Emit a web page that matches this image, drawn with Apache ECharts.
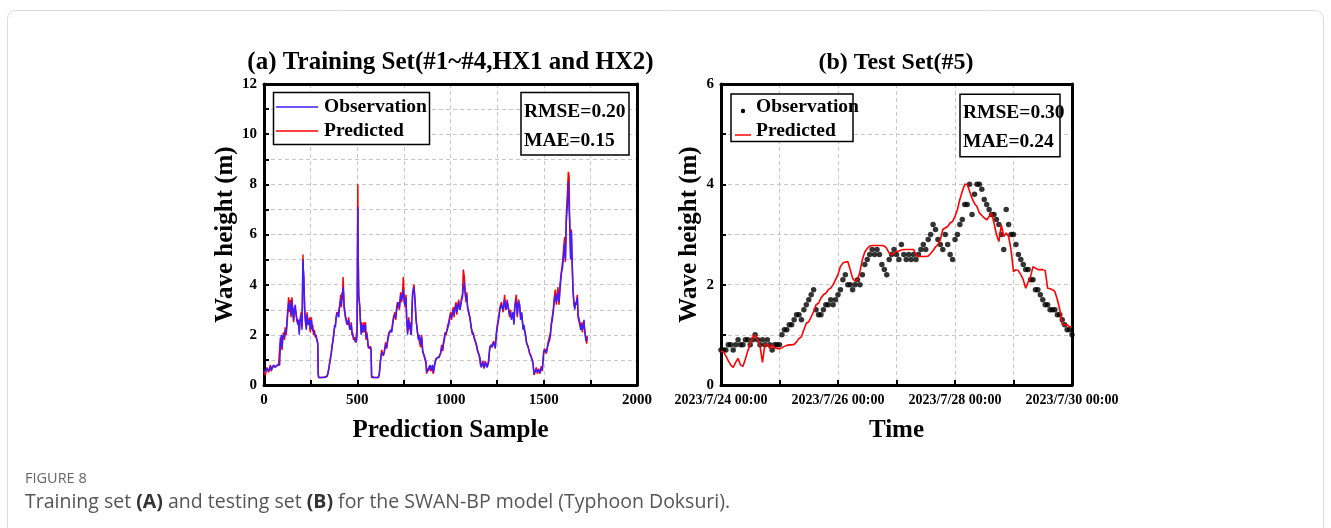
<!DOCTYPE html>
<html><head><meta charset="utf-8">
<script src="https://cdn.jsdelivr.net/npm/echarts@6/dist/echarts.min.js"></script>
<style>html,body{margin:0;padding:0;background:#fff;}#c{width:1331px;height:528px;}</style>
</head><body><div id="c"></div>
<script>
// ---------- DATA ----------
const trainObs = [[0,0.5],[7,0.45],[16,0.65],[25,0.55],[34,0.75],[39,0.6],[46,0.7],[52,0.8],[61,0.7],[70,0.8],[78,0.75],[84,0.8],[88,1.6],[93,2.0],[97,1.5],[100,1.8],[105,2.0],[110,1.9],[114,2.2],[119,2.1],[123,2.4],[126,2.7],[129,3.0],[132,3.3],[136,3.0],[141,3.2],[145,2.8],[150,3.4],[154,2.9],[159,2.6],[163,3.0],[168,3.2],[172,2.8],[177,2.6],[182,2.4],[186,2.6],[189,2.0],[192,2.5],[195,2.6],[200,2.8],[204,2.2],[207,3.8],[209,5.0],[211,4.6],[213,4.5],[218,3.0],[222,2.6],[227,2.2],[231,2.8],[235,2.5],[239,2.4],[244,2.6],[248,2.2],[254,2.6],[258,2.3],[261,2.3],[266,2.1],[270,2.1],[275,2.0],[280,1.9],[284,1.8],[288,1.7],[291,0.4],[293,0.3],[310,0.3],[325,0.3],[338,0.35],[343,0.45],[347,0.6],[352,0.9],[356,1.0],[361,1.3],[365,1.5],[370,1.8],[374,2.0],[379,2.4],[383,2.3],[386,2.6],[391,2.8],[397,2.9],[401,2.7],[404,3.0],[408,3.2],[411,3.4],[415,3.2],[418,3.6],[421,3.5],[424,3.9],[427,3.6],[429,3.2],[433,3.0],[436,2.8],[441,2.6],[445,2.5],[449,2.4],[454,2.6],[459,2.3],[463,2.2],[468,2.4],[472,2.1],[475,2.0],[480,1.9],[486,1.8],[490,1.75],[495,1.7],[499,2.0],[501,4.5],[503,7.1],[505,5.0],[508,3.5],[511,3.4],[514,3.0],[517,2.6],[521,2.0],[525,2.4],[528,2.2],[531,2.1],[536,2.4],[540,2.2],[544,2.4],[547,1.9],[552,2.0],[556,1.8],[559,1.5],[565,1.5],[570,1.5],[574,1.4],[577,0.3],[590,0.3],[600,0.3],[613,0.3],[618,0.4],[624,0.9],[631,1.3],[640,1.2],[645,1.3],[652,1.6],[658,1.5],[664,1.8],[670,2.0],[679,2.2],[685,2.1],[690,2.4],[694,2.6],[702,2.8],[707,2.7],[711,3.0],[716,3.1],[720,3.3],[726,3.1],[733,3.6],[738,3.4],[743,3.6],[747,3.8],[752,3.3],[756,3.2],[761,3.5],[765,2.7],[770,2.0],[773,2.5],[776,2.6],[780,2.3],[783,2.4],[787,2.1],[790,2.0],[794,3.0],[797,3.6],[804,3.9],[810,3.4],[815,2.6],[822,2.2],[828,1.8],[833,2.0],[837,1.8],[840,1.6],[845,1.9],[851,1.3],[858,1.2],[863,1.1],[869,0.9],[872,0.5],[877,0.6],[881,0.6],[886,0.7],[890,0.8],[895,0.6],[899,0.7],[904,0.8],[908,0.5],[913,0.7],[918,0.9],[922,1.0],[929,1.1],[935,1.05],[940,1.1],[947,1.3],[953,1.5],[958,1.4],[962,1.6],[967,1.8],[971,2.0],[977,2.1],[983,2.2],[990,2.4],[995,2.6],[1001,2.8],[1006,2.7],[1012,2.9],[1016,3.0],[1019,2.8],[1024,3.0],[1030,3.2],[1034,2.9],[1037,3.0],[1044,3.3],[1048,3.1],[1051,3.0],[1056,3.2],[1060,3.4],[1064,3.5],[1069,3.9],[1074,4.1],[1078,3.7],[1083,3.4],[1087,3.6],[1091,3.2],[1094,3.0],[1099,2.9],[1105,2.6],[1110,2.4],[1114,2.2],[1118,2.1],[1122,2.0],[1127,1.9],[1131,1.8],[1136,1.7],[1140,1.6],[1145,1.4],[1149,1.3],[1153,1.25],[1158,1.1],[1162,0.8],[1165,0.7],[1170,0.8],[1174,0.9],[1180,0.7],[1187,0.9],[1192,0.8],[1196,0.7],[1201,0.8],[1205,0.85],[1210,1.4],[1215,1.6],[1223,1.5],[1232,1.7],[1240,1.5],[1246,2.0],[1251,2.3],[1258,2.6],[1265,3.0],[1273,3.2],[1282,3.0],[1290,3.4],[1295,3.1],[1299,3.0],[1304,3.3],[1308,3.2],[1313,2.9],[1317,2.8],[1322,2.9],[1326,2.6],[1335,2.9],[1340,2.4],[1344,3.0],[1349,3.3],[1353,3.4],[1358,2.8],[1362,3.1],[1366,3.3],[1371,3.2],[1376,2.6],[1382,2.9],[1389,2.2],[1394,2.4],[1401,2.0],[1408,1.7],[1416,1.5],[1424,1.3],[1433,1.1],[1442,0.9],[1448,0.45],[1455,0.5],[1460,0.65],[1466,0.5],[1473,0.6],[1480,0.5],[1487,0.7],[1492,0.6],[1500,1.3],[1505,1.4],[1514,1.3],[1523,1.6],[1532,1.8],[1536,2.0],[1541,2.4],[1546,2.6],[1551,2.9],[1555,3.2],[1562,3.6],[1568,3.3],[1572,3.5],[1576,3.7],[1582,3.3],[1587,3.8],[1594,4.4],[1601,4.7],[1607,5.2],[1612,5.6],[1616,5.0],[1621,6.5],[1626,7.1],[1632,8.1],[1636,7.0],[1639,6.6],[1644,5.0],[1648,6.1],[1652,5.0],[1657,3.7],[1662,3.3],[1666,3.0],[1670,3.2],[1675,3.3],[1680,3.5],[1684,2.8],[1690,2.6],[1693,2.5],[1698,2.2],[1702,2.4],[1707,2.2],[1712,2.4],[1716,2.6],[1720,2.1],[1723,2.1],[1727,1.75],[1730,1.7],[1734,1.9]];

const trainPred = [[0,0.55],[7,0.4],[16,0.7],[25,0.5],[34,0.8],[39,0.55],[46,0.75],[52,0.75],[61,0.72],[70,0.75],[78,0.8],[84,0.75],[88,1.9],[93,1.7],[97,1.4],[100,1.9],[105,2.1],[110,1.8],[114,2.3],[119,2.0],[123,2.5],[126,2.9],[129,3.1],[132,3.5],[136,2.9],[141,3.4],[145,2.7],[150,3.5],[154,3.0],[159,2.5],[163,3.1],[168,3.0],[172,2.9],[177,2.5],[182,2.6],[186,2.5],[189,2.1],[192,2.4],[195,2.7],[200,2.9],[204,2.3],[207,4.2],[209,5.2],[211,4.4],[213,4.3],[218,3.1],[222,2.5],[227,2.3],[231,2.9],[235,2.4],[239,2.5],[244,2.7],[248,2.1],[254,2.7],[258,2.2],[261,2.4],[266,2.0],[270,2.2],[275,1.9],[280,2.0],[284,1.75],[288,1.65],[291,0.45],[293,0.3],[310,0.3],[325,0.32],[338,0.35],[343,0.5],[347,0.65],[352,0.85],[356,1.1],[361,1.25],[365,1.6],[370,1.75],[374,2.1],[379,2.3],[383,2.4],[386,2.7],[391,2.9],[397,2.8],[401,2.8],[404,3.1],[408,3.3],[411,3.6],[415,3.1],[418,3.7],[421,3.4],[424,4.3],[427,3.7],[429,3.1],[433,3.1],[436,2.7],[441,2.7],[445,2.4],[449,2.5],[454,2.7],[459,2.2],[463,2.3],[468,2.5],[472,2.0],[475,2.1],[480,1.8],[486,1.9],[490,1.7],[495,1.75],[499,2.2],[501,5.5],[503,8.0],[505,5.3],[508,3.6],[511,3.3],[514,3.1],[517,2.5],[521,2.1],[525,2.5],[528,2.1],[531,2.2],[536,2.5],[540,2.1],[544,2.5],[547,1.8],[552,2.1],[556,1.7],[559,1.55],[565,1.45],[570,1.55],[574,1.45],[577,0.35],[590,0.3],[600,0.32],[613,0.3],[618,0.45],[624,0.95],[631,1.4],[640,1.15],[645,1.35],[652,1.7],[658,1.45],[664,1.9],[670,2.1],[679,2.1],[685,2.2],[690,2.5],[694,2.7],[702,2.9],[707,2.6],[711,3.1],[716,3.3],[720,3.2],[726,3.0],[733,3.7],[738,3.3],[743,3.7],[747,4.3],[752,3.4],[756,3.1],[761,3.6],[765,2.6],[770,2.1],[773,2.4],[776,2.7],[780,2.2],[783,2.5],[787,2.0],[790,2.1],[794,3.2],[797,3.7],[804,4.0],[810,3.3],[815,2.7],[822,2.1],[828,1.9],[833,1.9],[837,1.9],[840,1.5],[845,2.0],[851,1.4],[858,1.15],[863,1.15],[869,0.85],[872,0.45],[877,0.65],[881,0.55],[886,0.75],[890,0.75],[895,0.55],[899,0.75],[904,0.75],[908,0.45],[913,0.75],[918,0.95],[922,1.05],[929,1.05],[935,1.1],[940,1.15],[947,1.25],[953,1.6],[958,1.35],[962,1.7],[967,1.9],[971,2.1],[977,2.0],[983,2.3],[990,2.5],[995,2.7],[1001,2.9],[1006,2.6],[1012,3.0],[1016,3.1],[1019,2.7],[1024,3.1],[1030,3.3],[1034,2.8],[1037,3.1],[1044,3.4],[1048,3.0],[1051,3.1],[1056,3.3],[1060,3.5],[1064,3.6],[1069,4.6],[1074,4.3],[1078,3.8],[1083,3.3],[1087,3.7],[1091,3.1],[1094,3.1],[1099,2.8],[1105,2.7],[1110,2.3],[1114,2.3],[1118,2.0],[1122,2.1],[1127,1.85],[1131,1.85],[1136,1.65],[1140,1.65],[1145,1.35],[1149,1.35],[1153,1.2],[1158,1.15],[1162,0.75],[1165,0.75],[1170,0.75],[1174,0.95],[1180,0.65],[1187,0.95],[1192,0.75],[1196,0.75],[1201,0.75],[1205,0.9],[1210,1.5],[1215,1.55],[1223,1.6],[1232,1.75],[1240,1.45],[1246,2.1],[1251,2.4],[1258,2.7],[1265,3.1],[1273,3.3],[1282,2.9],[1290,3.6],[1295,3.0],[1299,3.1],[1304,3.4],[1308,3.1],[1313,3.0],[1317,2.7],[1322,3.0],[1326,2.7],[1335,2.8],[1340,2.5],[1344,3.1],[1349,3.4],[1353,3.6],[1358,2.7],[1362,3.2],[1366,3.4],[1371,3.1],[1376,2.7],[1382,2.8],[1389,2.3],[1394,2.3],[1401,2.1],[1408,1.65],[1416,1.55],[1424,1.25],[1433,1.15],[1442,0.85],[1448,0.4],[1455,0.55],[1460,0.7],[1466,0.45],[1473,0.65],[1480,0.45],[1487,0.75],[1492,0.55],[1500,1.35],[1505,1.45],[1514,1.25],[1523,1.7],[1532,1.75],[1536,2.1],[1541,2.5],[1546,2.5],[1551,3.0],[1555,3.4],[1562,3.8],[1568,3.2],[1572,3.6],[1576,3.9],[1582,3.2],[1587,4.0],[1594,4.5],[1601,4.9],[1607,5.5],[1612,5.9],[1616,4.9],[1621,6.8],[1626,7.5],[1632,8.5],[1636,8.3],[1639,6.4],[1644,5.2],[1648,6.2],[1652,4.9],[1657,3.8],[1662,3.2],[1666,3.1],[1670,3.3],[1675,3.2],[1680,3.6],[1684,2.7],[1690,2.7],[1693,2.4],[1698,2.3],[1702,2.5],[1707,2.1],[1712,2.5],[1716,2.5],[1720,2.2],[1723,2.0],[1727,1.8],[1730,1.65],[1734,1.95]];

// hourly values from 2023/7/24 00:00 (index = hour)
const testObs = [0.7,0.7,0.7,0.8,0.8,0.7,0.8,0.9,0.8,0.8,0.9,0.9,0.8,0.9,1.0,0.9,0.8,0.9,0.8,0.9,0.8,0.7,0.8,0.8,
0.8,1.0,1.1,1.1,1.2,1.2,1.3,1.4,1.4,1.3,1.5,1.6,1.7,1.8,1.9,1.5,1.4,1.4,1.5,1.6,1.6,1.7,1.6,1.7,
1.8,1.9,2.1,2.2,2.0,2.0,1.9,2.0,2.1,2.0,2.2,2.4,2.5,2.6,2.7,2.6,2.7,2.6,2.4,2.3,2.2,2.5,2.6,2.7,
2.6,2.5,2.8,2.6,2.5,2.6,2.5,2.6,2.5,2.6,2.7,2.8,2.7,2.9,3.0,3.2,3.1,2.9,2.8,2.7,3.0,2.8,2.6,2.5,
2.9,3.0,3.2,3.3,3.6,3.6,4.0,3.4,3.8,4.0,4.0,3.9,3.7,3.6,3.5,3.4,3.4,3.3,3.2,3.0,2.7,3.5,3.2,3.0,
3.0,2.8,2.6,2.5,2.4,2.3,2.3,2.1,2.1,1.9,1.9,1.8,1.7,1.6,1.6,1.5,1.5,1.5,1.4,1.4,1.3,1.2,1.1,1.1,1.0];

const testPred = [0.67,0.66,0.58,0.48,0.4,0.35,0.45,0.53,0.4,0.37,0.52,0.68,0.82,0.95,1.0,0.9,0.78,0.45,0.8,0.82,0.73,0.8,0.74,0.73,
0.72,0.74,0.77,0.79,0.8,0.8,0.81,0.86,0.93,0.96,1.1,1.23,1.26,1.36,1.46,1.6,1.63,1.73,1.8,1.83,1.9,1.93,2.0,2.1,
2.2,2.36,2.43,2.45,2.46,2.3,2.13,2.07,2.1,2.26,2.5,2.65,2.72,2.77,2.78,2.78,2.78,2.78,2.78,2.77,2.72,2.63,2.6,2.62,
2.66,2.67,2.69,2.7,2.7,2.7,2.7,2.7,2.6,2.56,2.56,2.56,2.56,2.57,2.62,2.68,2.75,2.8,2.9,3.1,3.13,3.16,3.23,3.26,
3.36,3.5,3.7,3.86,4.0,4.0,3.86,3.72,3.62,3.56,3.43,3.38,3.33,3.29,3.36,3.43,3.23,3.0,2.86,3.19,2.96,3.03,2.96,2.69,
2.26,2.3,2.28,2.2,2.1,1.93,2.05,2.16,2.36,2.33,2.3,2.3,2.3,2.28,1.93,1.92,1.9,1.86,1.7,1.5,1.2,1.2,1.2,1.16,1.16];

const dateLabels = ['2023/7/24 00:00','2023/7/25 00:00','2023/7/26 00:00','2023/7/27 00:00','2023/7/28 00:00','2023/7/29 00:00','2023/7/30 00:00'];
const seriesNames = ['Observation','Predicted'];
const statsA = ['RMSE=0.20','MAE=0.15'];
const statsB = ['RMSE=0.30','MAE=0.24'];
const titles = ['(a) Training Set(#1~#4,HX1 and HX2)','(b) Test Set(#5)'];

// ---------- CHART ----------
const SERIF = '"Times New Roman","Liberation Serif",serif';
const SANS = '"Open Sans","Noto Sans",sans-serif';
const BLUE = '#3f1dff', RED = '#ff0000';
const chart = echarts.init(document.getElementById('c'));

const labelStyle = {color:'#000', fontFamily:SERIF, fontWeight:'bold', fontSize:15};
const nameStyle = {color:'#000', fontFamily:SERIF, fontWeight:'bold', fontSize:25};
const split = {show:true, lineStyle:{color:'#c8c8c8', type:[4,3], width:1}};
const axLine = {show:true, onZero:false, lineStyle:{color:'#000', width:3}};
const tick = {show:true, inside:true, length:5, lineStyle:{color:'#000', width:2}};

function yAx(gi, max, gap){
  return {type:'value', gridIndex:gi, min:0, max:max, interval:1,
    axisLine:axLine, axisTick:tick, splitLine:split,
    axisLabel:Object.assign({margin:7, formatter:v => (v % 2 === 0 ? String(v) : '')}, labelStyle),
    name:'Wave height (m)', nameLocation:'middle', nameRotate:90, nameGap:gap, nameTextStyle:nameStyle};
}
// frame-only axes (top / right edges of each plot box)
function frameX(gi, max){ return {type:'value', gridIndex:gi, position:'top', min:0, max:max, axisLine:axLine, axisTick:{show:false}, axisLabel:{show:false}, splitLine:{show:false}}; }
function frameY(gi, max){ return {type:'value', gridIndex:gi, position:'right', min:0, max:max, axisLine:axLine, axisTick:{show:false}, axisLabel:{show:false}, splitLine:{show:false}}; }

const hours = testObs.map((v,i)=>[i,v]);
const hoursPred = testPred.map((v,i)=>[i,v]);

function boxText(x, y, t){ return {type:'text', z:100, x:x, y:y, style:{text:t, fill:'#000', font:'bold 19.5px '+SERIF, verticalAlign:'middle', align:'left'}}; }
function box(x, y, w, h){ return {type:'rect', z:99, shape:{x:x, y:y, width:w, height:h}, style:{fill:'#fff', stroke:'#000', lineWidth:1.5}}; }

chart.setOption({
  animation:false,
  backgroundColor:'#fff',
  grid:[
    {left:264, top:84, width:373, height:301},
    {left:721, top:84, width:351, height:301}
  ],
  xAxis:[
    {type:'value', gridIndex:0, min:0, max:2000, interval:250,
      axisLine:axLine, axisTick:tick, splitLine:split,
      axisLabel:Object.assign({margin:8, formatter:v => (v % 500 === 0 ? String(v) : '')}, labelStyle),
      name:'Prediction Sample', nameLocation:'middle', nameGap:33, nameTextStyle:nameStyle},
    {type:'value', gridIndex:1, min:0, max:144, interval:24,
      axisLine:axLine, axisTick:tick, splitLine:split,
      axisLabel:Object.assign({margin:8, formatter:v => {const k=Math.round(v/24); return k%2===0 ? dateLabels[k] : '';}}, labelStyle, {fontSize:14}),
      name:'Time', nameLocation:'middle', nameGap:33, nameTextStyle:nameStyle},
    frameX(0,2000), frameX(1,144)
  ],
  yAxis:[yAx(0,12,14), yAx(1,6,19), frameY(0,12), frameY(1,6)],
  series:[
    {name:seriesNames[1], type:'line', xAxisIndex:0, yAxisIndex:0, data:trainPred, showSymbol:false, lineStyle:{color:RED, width:1.5}, itemStyle:{color:RED}},
    {name:seriesNames[0], type:'line', xAxisIndex:0, yAxisIndex:0, data:trainObs, showSymbol:false, lineStyle:{color:BLUE, width:1.5}, itemStyle:{color:BLUE}},
    {name:seriesNames[0], type:'scatter', xAxisIndex:1, yAxisIndex:1, data:hours, symbolSize:5.5, itemStyle:{color:'#000'}},
    {name:seriesNames[1], type:'line', xAxisIndex:1, yAxisIndex:1, data:hoursPred, showSymbol:false, lineStyle:{color:RED, width:1.6}, itemStyle:{color:RED}, z:3}
  ],
  graphic:[
    {type:'rect', z:-10, shape:{x:7.5, y:10.5, width:1316, height:560, r:8}, style:{fill:'none', stroke:'#dcdcdc', lineWidth:1}},
    {type:'text', x:450.5, y:63, style:{text:titles[0], fill:'#000', font:'bold 25px '+SERIF, align:'center', verticalAlign:'middle'}},
    {type:'text', x:896, y:63, style:{text:titles[1], fill:'#000', font:'bold 24px '+SERIF, align:'center', verticalAlign:'middle'}},
    // legend (a)
    box(273.5, 92.5, 156, 52),
    {type:'line', z:100, shape:{x1:276, y1:107, x2:318, y2:107}, style:{stroke:BLUE, lineWidth:1.5}},
    {type:'line', z:100, shape:{x1:276, y1:131, x2:318, y2:131}, style:{stroke:RED, lineWidth:1.5}},
    boxText(324, 107, seriesNames[0]),
    boxText(324, 131, seriesNames[1]),
    box(521, 92.5, 108, 62.5),
    boxText(524, 112, statsA[0]),
    boxText(524, 140.5, statsA[1]),
    // legend (b)
    box(731, 94, 122, 47.5),
    {type:'circle', z:100, shape:{cx:743, cy:111, r:2.2}, style:{fill:'#000'}},
    {type:'line', z:100, shape:{x1:735, y1:135, x2:751, y2:135}, style:{stroke:RED, lineWidth:1.5}},
    boxText(756, 107, seriesNames[0]),
    boxText(756, 131, seriesNames[1]),
    box(960, 94.3, 100, 62.4),
    boxText(963, 113, statsB[0]),
    boxText(963, 141.5, statsB[1]),
    // caption
    {type:'text', x:25, y:479, style:{text:'FIGURE 8', fill:'#666', font:'14.5px '+SANS, verticalAlign:'middle'}},
    {type:'text', x:25, y:502, style:{
      text:'{n|Training set }{b|(A)}{n| and testing set }{b|(B)}{n| for the SWAN-BP model (Typhoon Doksuri).}',
      verticalAlign:'middle', font:'19.5px '+SANS, fill:'#555',
      rich:{n:{fontFamily:SANS, fontSize:19.5, fill:'#555'}, b:{fontFamily:SANS, fontSize:19.5, fontWeight:'bold', fill:'#333'}}}}
  ]
});
</script></body></html>
